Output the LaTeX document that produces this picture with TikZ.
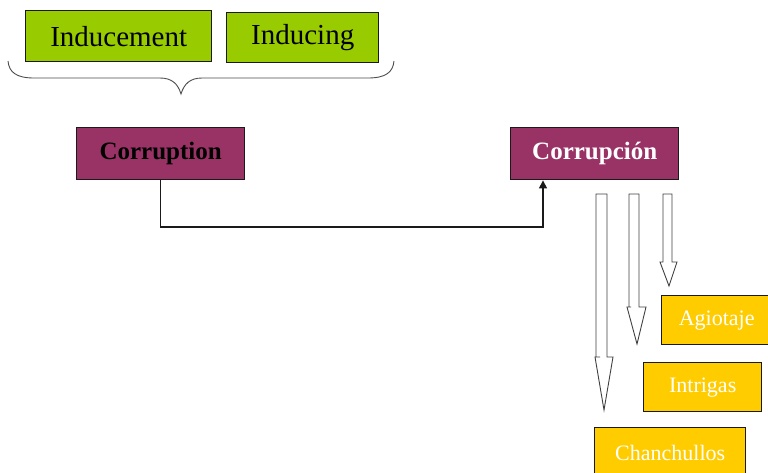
\documentclass[tikz,border=0pt]{standalone}
\usepackage{fontspec}
\setmainfont{Liberation Serif}
\usetikzlibrary{arrows.meta}
\definecolor{leaf}{HTML}{99CC00}
\definecolor{plum}{HTML}{993366}
\definecolor{gold}{HTML}{FFCC00}
\definecolor{edge}{HTML}{1A1A1A}
\tikzset{
  box/.style={draw=edge, line width=1.4pt, inner sep=0pt, anchor=north west},
  greenbox/.style={box, fill=leaf, font=\fontsize{29}{30}\selectfont, text=black},
  plumbox/.style={box, fill=plum, font=\fontsize{25}{26}\selectfont\bfseries},
  goldbox/.style={box, fill=gold, font=\fontsize{22}{23}\selectfont, text=white},
  hollow/.style={draw=black!75, line width=0.9pt, fill=white, line join=miter},
}
\begin{document}
\begin{tikzpicture}[x=1pt,y=-1pt]
\useasboundingbox (0,0) rectangle (768,472);

% top pair of terms
\node[greenbox, minimum width=186pt, minimum height=51pt] (inducement) at (25,10) {Inducement};
\node[greenbox, minimum width=152pt, minimum height=50pt] (inducing) at (226,12) {Inducing};

% brace under both terms
\draw[black!70, line width=0.9pt]
  (8,61) .. controls (9,72) and (16,78) .. (34,78)
  -- (160,78) .. controls (172,78) and (178,84) .. (181,94)
  .. controls (184,84) and (190,78) .. (202,78)
  -- (368,78) .. controls (386,78) and (393,72) .. (394,61);

% main terms
\node[plumbox, text=black, minimum width=168pt, minimum height=52pt] (corruption) at (76,127) {Corruption};
\node[plumbox, text=white, minimum width=168pt, minimum height=52pt] (corrupcion) at (510,127) {Corrupción};

% translation link
\coordinate (bend) at (543,227);
\draw[edge, line width=1.2pt, -{Triangle[length=8pt,width=8pt]}]
  (corruption.south) |- (bend) -- (bend |- corrupcion.south);

% synonyms
\node[goldbox, minimum width=110pt, minimum height=49pt] (agiotaje) at (661,295) {Agiotaje};
\node[goldbox, minimum width=118pt, minimum height=49pt] (intrigas) at (643,362) {Intrigas};
\node[goldbox, minimum width=151pt, minimum height=50pt] (chanchullos) at (594,427) {Chanchullos};

% hollow block arrows pointing to the synonyms
\draw[hollow] (596,194) -- (607,194) -- (607,357) -- (613,357) -- (604,410)
  -- (595,357) -- (600,357) -- (600,357) -- (596,357) -- cycle;
\draw[hollow] (629,194) -- (639,194) -- (639,307) -- (646,307) -- (637,344)
  -- (627,307) -- (631,307) -- (629,307) -- cycle;
\draw[hollow] (663,194) -- (672,194) -- (672,262) -- (677,262) -- (669,286)
  -- (660,262) -- (663,262) -- cycle;
\end{tikzpicture}
\end{document}
